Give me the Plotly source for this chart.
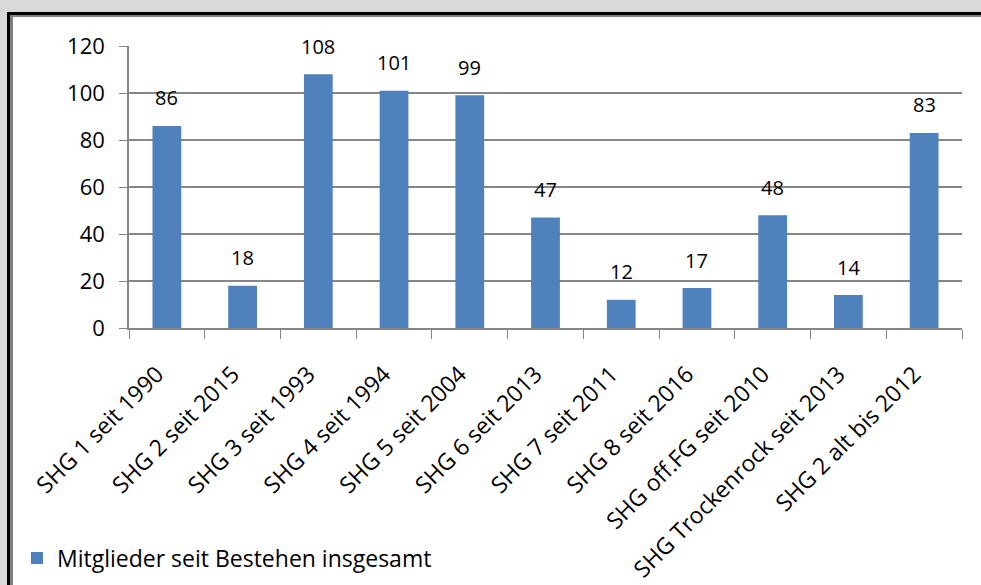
import plotly.graph_objects as go

categories = ["SHG 1 seit 1990", "SHG 2 seit 2015", "SHG 3 seit 1993", "SHG 4 seit 1994",
              "SHG 5 seit 2004", "SHG 6 seit 2013", "SHG 7 seit 2011", "SHG 8 seit 2016",
              "SHG off.FG seit 2010", "SHG Trockenrock seit 2013", "SHG 2 alt bis 2012"]
members = [86, 18, 108, 101, 99, 47, 12, 17, 48, 14, 83]
series_name = "Mitglieder seit Bestehen insgesamt"
y_ticks = [0, 20, 40, 60, 80, 100, 120]

W, H = 981, 585
ML, MR, MT, MB = 129, 19, 46, 257
PW, PH = W - ML - MR, H - MT - MB

def px(x):
    return (x - ML) / PW

def py(y):
    return (H - MB - y) / PH

FONT = "Open Sans"
BAR = "#4F81BD"
GRID = "#868686"

fig = go.Figure()
fig.add_trace(go.Bar(x=categories, y=members, name=series_name,
                     marker=dict(color=BAR, line=dict(width=0))))

for c, v in zip(categories, members):
    fig.add_annotation(x=c, y=v, text=str(v), showarrow=False, yshift=28,
                       font=dict(family=FONT, size=20, color="#000"))

shapes = [
    dict(type="rect", xref="paper", yref="paper", x0=px(0), x1=px(W + 5), y0=py(0), y1=py(12),
         fillcolor="#d9d9d9", line=dict(width=0)),
    dict(type="rect", xref="paper", yref="paper", x0=px(0), x1=px(7), y0=py(0), y1=py(H),
         fillcolor="#d9d9d9", line=dict(width=0)),
    dict(type="rect", xref="paper", yref="paper", x0=px(7), x1=px(W + 5), y0=py(12), y1=py(15),
         fillcolor="#000000", line=dict(width=0)),
    dict(type="rect", xref="paper", yref="paper", x0=px(7), x1=px(10), y0=py(12), y1=py(H),
         fillcolor="#000000", line=dict(width=0)),
    dict(type="rect", xref="paper", yref="paper", x0=px(10), x1=px(W + 5), y0=py(15), y1=py(17),
         fillcolor="#808080", line=dict(width=0)),
    dict(type="rect", xref="paper", yref="paper", x0=px(10), x1=px(13), y0=py(15), y1=py(H),
         fillcolor="#808080", line=dict(width=0)),
]

fig.update_layout(
    width=W, height=H,
    margin=dict(l=ML, r=MR, t=MT, b=MB, pad=0, autoexpand=False),
    paper_bgcolor="white", plot_bgcolor="white",
    bargap=0.62,
    shapes=shapes,
    showlegend=True,
    legend=dict(x=px(17), y=py(558), xanchor="left", yanchor="middle",
                font=dict(family=FONT, size=23, color="#000"),
                bgcolor="rgba(0,0,0,0)"),
    font=dict(family=FONT, color="#000"),
)
fig.update_xaxes(type="category", tickangle=-45, tickson="boundaries", automargin=False,
                 ticks="outside", ticklen=9, tickcolor=GRID,
                 showline=True, linecolor=GRID, linewidth=1.5,
                 ticklabelstandoff=22, ticklabelshift=-10,
                 showgrid=False, tickfont=dict(family=FONT, size=23, color="#000"))
fig.update_yaxes(range=[0, 120], tickvals=y_ticks, ticks="outside", ticklen=8, automargin=False,
                 tickcolor=GRID, showline=True, linecolor=GRID, linewidth=1.5,
                 showgrid=True, gridcolor=GRID, gridwidth=1.5, zeroline=False,
                 ticklabelstandoff=10,
                 tickfont=dict(family=FONT, size=22, color="#000"))

fig.write_html("out.html", config={"displayModeBar": False},
               post_script="document.documentElement.style.margin='0';"
                           "document.documentElement.style.overflow='hidden';"
                           "document.body.style.margin='0';document.body.style.padding='0';"
                           "document.body.style.overflow='hidden';")
